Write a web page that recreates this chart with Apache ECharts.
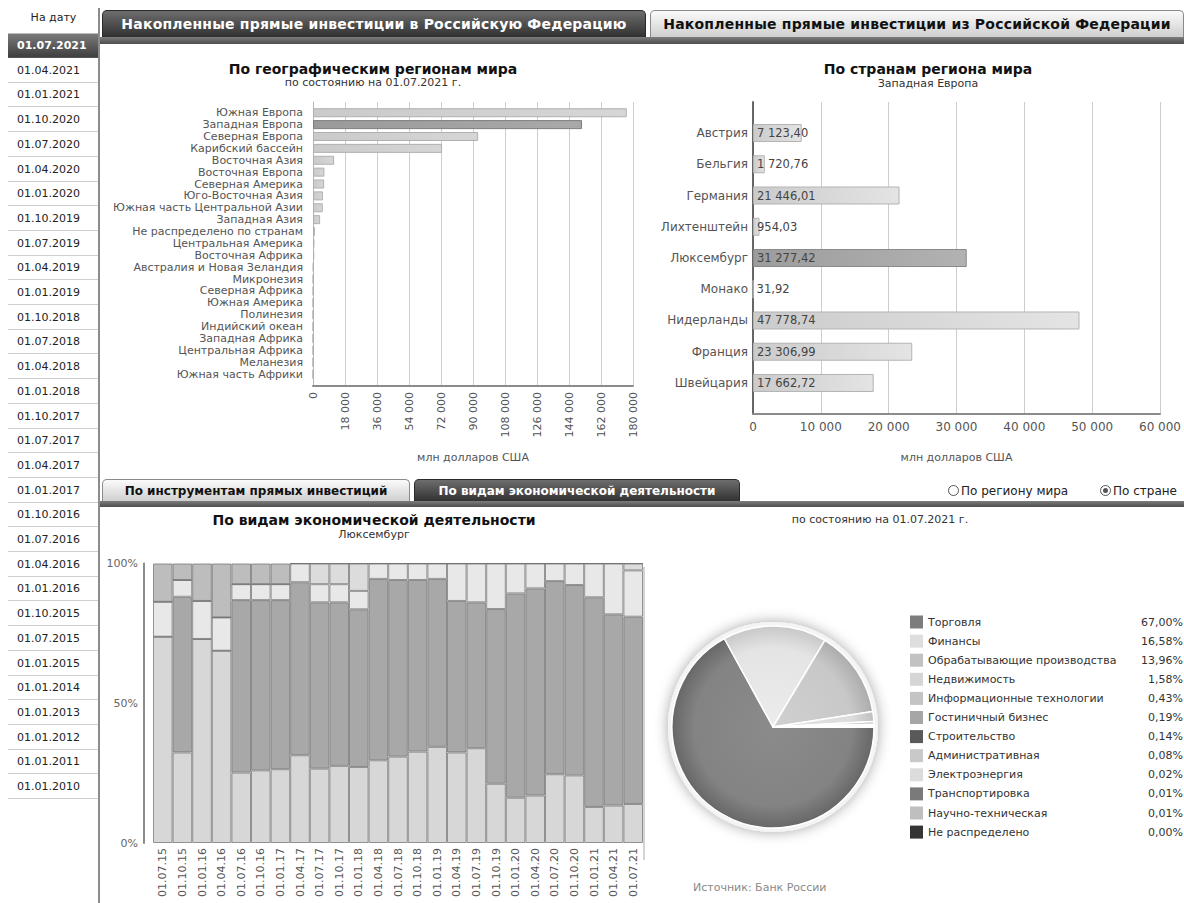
<!DOCTYPE html>
<html lang="ru">
<head>
<meta charset="utf-8">
<title>Прямые инвестиции</title>
<script src="https://cdn.jsdelivr.net/npm/echarts@6/dist/echarts.min.js"></script>
<style>
  html, body { margin: 0; padding: 0; }
  body { width: 1184px; height: 903px; position: relative; overflow: hidden; background: #fff;
         font-family: "DejaVu Sans", Verdana, sans-serif; color: #222; }
  #chart { position: absolute; left: 0; top: 0; width: 1184px; height: 903px; }
  .abs { position: absolute; white-space: nowrap; }
  .ctr { text-align: center; width: 600px; line-height: 16px; }
  .title { font-weight: bold; font-size: 14px; color: #111; }
  .sub { font-size: 11px; color: #333; }
  .date { position: absolute; left: 8px; width: 91px; height: 24px; border-bottom: 1px solid #cfcfcf;
          font-size: 11px; line-height: 24px; padding-left: 9px; box-sizing: border-box; color: #222; }
  .date.sel { background: linear-gradient(#7a7a7a, #3f3f3f); color: #fff; font-weight: bold; border-bottom-color: #555; }
  .tab { position: absolute; box-sizing: border-box; text-align: center; font-weight: bold;
         border-radius: 5px 5px 0 0; }
  .tab.dark { background: linear-gradient(#6d6d6d, #2f2f2f); color: #fff; border: 1px solid #2a2a2a; border-bottom: none; }
  .tab.light { background: linear-gradient(#fbfbfb, #cdcdcd); color: #111; border: 1px solid #8a8a8a; border-bottom: none; }
  .tab.big { font-size: 14px; letter-spacing: 0.2px; line-height: 27px; }
  .strip { position: absolute; left: 100px; width: 1084px; background: linear-gradient(#7d7d7d, #4d4d4d); }
  .radio { position: absolute; width: 11px; height: 11px; border: 1px solid #555; border-radius: 50%; background: #fff; box-sizing: border-box; }
  .radio.on::after { content: ""; position: absolute; left: 2px; top: 2px; width: 5px; height: 5px; border-radius: 50%; background: #555; }
</style>
</head>
<body>
<div id="chart"></div>
<div id="chrome"></div>
<script>
// ---------- data ----------
const reportDates = ['01.07.2021','01.04.2021','01.01.2021','01.10.2020','01.07.2020','01.04.2020','01.01.2020',
  '01.10.2019','01.07.2019','01.04.2019','01.01.2019','01.10.2018','01.07.2018','01.04.2018','01.01.2018',
  '01.10.2017','01.07.2017','01.04.2017','01.01.2017','01.10.2016','01.07.2016','01.04.2016','01.01.2016',
  '01.10.2015','01.07.2015','01.01.2015','01.01.2014','01.01.2013','01.01.2012','01.01.2011','01.01.2010'];

const regions = ['Южная Европа','Западная Европа','Северная Европа','Карибский бассейн','Восточная Азия',
  'Восточная Европа','Северная Америка','Юго-Восточная Азия','Южная часть Центральной Азии','Западная Азия',
  'Не распределено по странам','Центральная Америка','Восточная Африка','Австралия и Новая Зеландия','Микронезия',
  'Северная Африка','Южная Америка','Полинезия','Индийский океан','Западная Африка','Центральная Африка',
  'Меланезия','Южная часть Африки'];
const regionValues = [176500, 151301.99, 92900, 72600, 11900, 6400, 6300, 5600, 5500, 4000,
  1100, 800, 700, 250, 120, 90, 70, 40, 30, 20, 10, 5, 2];
const selectedRegion = 'Западная Европа';

const countries = ['Австрия','Бельгия','Германия','Лихтенштейн','Люксембург','Монако','Нидерланды','Франция','Швейцария'];
const countryValues = [7123.40, 1720.76, 21446.01, 954.03, 31277.42, 31.92, 47778.74, 23306.99, 17662.72];
const selectedCountry = 'Люксембург';

const quarters = ['01.07.15','01.10.15','01.01.16','01.04.16','01.07.16','01.10.16','01.01.17','01.04.17',
  '01.07.17','01.10.17','01.01.18','01.04.18','01.07.18','01.10.18','01.01.19','01.04.19','01.07.19',
  '01.10.19','01.01.20','01.04.20','01.07.20','01.10.20','01.01.21','01.04.21','01.07.21'];
const shareManufacturing = [73.8, 32.4, 73.0, 68.8, 25.2, 26.0, 26.4, 31.4, 26.6, 27.6, 27.2, 29.6, 30.9,
  32.7, 34.4, 32.4, 33.9, 21.2, 16.2, 17.0, 24.6, 24.2, 12.9, 13.4, 13.96];
const shareTrade = [0, 55.7, 0, 0, 61.7, 60.9, 60.5, 61.9, 59.5, 58.5, 56.4, 64.9, 63.2,
  61.4, 60.1, 54.2, 52.2, 62.5, 73.1, 74.1, 69.1, 68.1, 75.0, 68.4, 67.00];
const shareFinance = [12.5, 6.0, 13.6, 11.9, 5.7, 5.7, 5.7, 6.7, 6.5, 6.5, 6.6, 5.5, 5.9,
  5.9, 5.5, 13.4, 13.9, 16.3, 10.7, 8.9, 6.3, 7.7, 12.1, 18.2, 16.58];
const shareRealty = [0, 0, 0, 0, 0, 0, 0, 0, 7.4, 7.4, 9.8, 0, 0,
  0, 0, 0, 0, 0, 0, 0, 0, 0, 0, 0, 2.46];
const shareOther = [13.7, 5.9, 13.4, 19.3, 7.4, 7.4, 7.4, 0, 0, 0, 0, 0, 0,
  0, 0, 0, 0, 0, 0, 0, 0, 0, 0, 0, 0];

const sectors = ['Торговля','Финансы','Обрабатывающие производства','Недвижимость','Информационные технологии',
  'Гостиничный бизнес','Строительство','Административная','Электроэнергия','Транспортировка',
  'Научно-техническая','Не распределено'];
const sectorShares = [67.00, 16.58, 13.96, 1.58, 0.43, 0.19, 0.14, 0.08, 0.02, 0.01, 0.01, 0.00];

// ---------- page chrome (tabs, date list, headings) ----------
const chrome = document.getElementById('chrome');
function add(html) { chrome.insertAdjacentHTML('beforeend', html); }
function centered(text, cx, cy, cls) {
  add(`<div class="abs ctr ${cls}" style="left:${cx - 300}px;top:${cy - 8}px">${text}</div>`);
}

add(`<div class="abs" style="left:8px;top:11px;width:91px;text-align:center;font-size:11px;line-height:14px">На дату</div>`);
reportDates.forEach((d, i) => {
  add(`<div class="date${i === 0 ? ' sel' : ''}" style="top:${(34 + i * 24.7).toFixed(1)}px">${d}</div>`);
});
add(`<div class="abs" style="left:8px;top:33px;width:91px;height:1px;background:#bbb"></div>`);
add(`<div class="abs" style="left:98px;top:8px;width:2px;height:895px;background:#8c8c8c"></div>`);

add(`<div class="tab dark big" style="left:102px;top:10px;width:544px;height:28px">Накопленные прямые инвестиции в Российскую Федерацию</div>`);
add(`<div class="tab light big" style="left:650px;top:10px;width:534px;height:28px">Накопленные прямые инвестиции из Российской Федерации</div>`);
add(`<div class="strip" style="top:37px;height:7px"></div>`);

add(`<div class="tab light" style="left:102px;top:479px;width:308px;height:23px;font-size:12px;line-height:22px">По инструментам прямых инвестиций</div>`);
add(`<div class="tab dark" style="left:414px;top:479px;width:326px;height:23px;font-size:12px;line-height:22px">По видам экономической деятельности</div>`);
add(`<div class="strip" style="top:501px;height:6px"></div>`);

add(`<div class="radio" style="left:948px;top:485px"></div>`);
add(`<div class="abs" style="left:961px;top:483px;font-size:12px;line-height:16px;color:#222">По региону мира</div>`);
add(`<div class="radio on" style="left:1100px;top:485px"></div>`);
add(`<div class="abs" style="left:1113px;top:483px;font-size:12px;line-height:16px;color:#222">По стране</div>`);

centered('По географическим регионам мира', 373, 69, 'title');
centered('по состоянию на 01.07.2021 г.', 373, 83, 'sub');
centered('По странам региона мира', 928, 69, 'title');
centered('Западная Европа', 928, 84, 'sub');
centered('По видам экономической деятельности', 374, 520, 'title');
centered('Люксембург', 374, 535, 'sub');
centered('по состоянию на 01.07.2021 г.', 880, 520, 'sub');
add(`<div class="abs" style="left:693px;top:880px;font-size:11px;line-height:16px;color:#8a8a8a">Источник: Банк России</div>`);
add(`<div class="abs" style="left:643px;top:567px;width:2px;height:293px;background:#d4d4d4"></div>`);

// ---------- charts ----------
const FONT = '"DejaVu Sans", Verdana, sans-serif';
function groupThousands(v) { return String(Math.round(v)).replace(/\B(?=(\d{3})+(?!\d))/g, ' '); }
function money(v) { const p = v.toFixed(2).split('.'); return groupThousands(+p[0]) + ',' + p[1]; }
function pct(v) { return v.toFixed(2).replace('.', ',') + '%'; }

const hGrad = (a, b) => ({ type: 'linear', x: 0, y: 0, x2: 1, y2: 0, colorStops: [{ offset: 0, color: a }, { offset: 1, color: b }] });
const PIE_C = [773, 727], PIE_R = 101;
const radial = (light, base, dark) => ({ type: 'radial', x: PIE_C[0], y: PIE_C[1], r: PIE_R, global: true,
  colorStops: [{ offset: 0, color: light }, { offset: 0.78, color: base }, { offset: 1, color: dark }] });

const sectorColors = ['#7d7d7d','#dedede','#c2c2c2','#d6d6d6','#c4c4c4','#a6a6a6','#595959','#c9c9c9','#dcdcdc','#7a7a7a','#bfbfbf','#353535'];
const sectorFills = sectorColors.map(c => {
  const n = parseInt(c.slice(1, 3), 16);
  const h = v => Math.max(0, Math.min(255, v)).toString(16).padStart(2, '0');
  const g = v => '#' + h(v) + h(v) + h(v);
  return radial(g(n + 14), g(n + 6), g(n - 22));
});

const axisFont = { fontFamily: FONT, color: '#555' };

const option = {
  animation: false,
  textStyle: { fontFamily: FONT },
  grid: [
    { left: 313, top: 102, width: 320, height: 284 },       // regions frame
    { left: 313, top: 106.8, width: 320, height: 273.2 },   // regions bars
    { left: 753, top: 102, width: 410, height: 312 },       // countries frame
    { left: 753, top: 117.4, width: 410, height: 281.2 },   // countries bars
    { left: 153, top: 563.5, width: 490, height: 279.5 }    // activity shares
  ],
  xAxis: [
    { gridIndex: 0, type: 'value', min: 0, max: 180000, interval: 18000,
      axisLine: { show: true, lineStyle: { color: '#8c8c8c', width: 2 } }, axisTick: { show: false },
      splitLine: { show: true, lineStyle: { color: '#cdcdcd' } },
      axisLabel: { ...axisFont, fontSize: 11, rotate: 90, margin: 6, formatter: groupThousands },
      name: 'млн долларов США', nameLocation: 'middle', nameGap: 71,
      nameTextStyle: { ...axisFont, fontSize: 11, verticalAlign: 'middle' } },
    { gridIndex: 1, type: 'value', min: 0, max: 180000, show: false },
    { gridIndex: 2, type: 'value', min: 0, max: 60000, interval: 10000,
      axisLine: { show: true, lineStyle: { color: '#8c8c8c', width: 2 } }, axisTick: { show: false },
      splitLine: { show: true, lineStyle: { color: '#cdcdcd' } },
      axisLabel: { ...axisFont, fontSize: 12, margin: 7, formatter: groupThousands },
      name: 'млн долларов США', nameLocation: 'middle', nameGap: 43,
      nameTextStyle: { ...axisFont, fontSize: 11, verticalAlign: 'middle' } },
    { gridIndex: 3, type: 'value', min: 0, max: 60000, show: false },
    { gridIndex: 4, type: 'category', data: quarters,
      axisLine: { show: false }, axisTick: { show: false },
      axisLabel: { ...axisFont, fontSize: 11, rotate: 90, interval: 0, margin: 5 } }
  ],
  yAxis: [
    { gridIndex: 0, type: 'value', axisLabel: { show: false }, axisTick: { show: false }, splitLine: { show: false },
      axisLine: { show: true, lineStyle: { color: '#b5b5b5', width: 1 } } },
    { gridIndex: 1, type: 'category', data: regions, inverse: true,
      axisLine: { show: false }, axisTick: { show: false },
      axisLabel: { ...axisFont, fontSize: 11, margin: 10, interval: 0 } },
    { gridIndex: 2, type: 'value', axisLabel: { show: false }, axisTick: { show: false }, splitLine: { show: false },
      axisLine: { show: true, lineStyle: { color: '#666', width: 2 } } },
    { gridIndex: 3, type: 'category', data: countries, inverse: true,
      axisLine: { show: false }, axisTick: { show: false },
      axisLabel: { ...axisFont, fontSize: 12, margin: 5, interval: 0 } },
    { gridIndex: 4, type: 'value', min: 0, max: 100, interval: 50, offset: 9,
      axisLine: { show: true, lineStyle: { color: '#8c8c8c', width: 2 } }, axisTick: { show: false },
      splitLine: { show: false },
      axisLabel: { ...axisFont, color: '#666', fontSize: 11, margin: 6, formatter: '{value}%' } }
  ],
  legend: {
    orient: 'vertical', left: 910, top: 615.5, padding: 0, itemWidth: 13, itemHeight: 13, itemGap: 6.1, itemTextGap: 3,
    icon: 'rect', selectedMode: false,
    data: sectors.map((n, i) => ({ name: n, itemStyle: { color: sectorColors[i], borderWidth: 0 } })),
    formatter: name => `{n|${name}}{v|${pct(sectorShares[sectors.indexOf(name)])}}`,
    textStyle: { fontFamily: FONT, color: '#333', fontSize: 11,
      rich: { n: { width: 203, fontSize: 11, lineHeight: 13, color: '#333', fontFamily: FONT },
              v: { width: 52, align: 'right', fontSize: 11, lineHeight: 13, color: '#333', fontFamily: FONT } } }
  },
  series: [
    { type: 'bar', xAxisIndex: 1, yAxisIndex: 1, barWidth: 9,
      data: regionValues.map((v, i) => ({ value: v, itemStyle: regions[i] === selectedRegion
        ? { color: hGrad('#9a9a9a', '#a9a9a9'), borderColor: '#7d7d7d', borderWidth: 1 }
        : { color: hGrad('#cacaca', '#d6d6d6'), borderColor: '#b0b0b0', borderWidth: 1 } })) },
    { type: 'bar', xAxisIndex: 3, yAxisIndex: 3, barWidth: 18,
      data: countryValues.map((v, i) => ({ value: v, itemStyle: countries[i] === selectedCountry
        ? { color: hGrad('#9c9c9c', '#b2b2b2'), borderColor: '#8a8a8a', borderWidth: 1 }
        : { color: hGrad('#cbcbcb', '#e4e4e4'), borderColor: '#b3b3b3', borderWidth: 1 } })),
      label: { show: true, position: 'insideLeft', distance: 4, color: '#444', fontSize: 11.5, fontFamily: FONT,
               formatter: p => money(p.value) } },
    ...[
      ['Обрабатывающие производства', shareManufacturing, '#d7d7d7'],
      ['Торговля', shareTrade, '#a8a8a8'],
      ['Финансы', shareFinance, '#e8e8e8'],
      ['Недвижимость', shareRealty, '#dcdcdc'],
      ['Прочие виды деятельности', shareOther, '#bdbdbd']
    ].map(([name, data, color]) => ({
      name, type: 'bar', xAxisIndex: 4, yAxisIndex: 4, stack: 'share', barCategoryGap: '0%', data,
      itemStyle: { color, borderColor: 'rgba(115,115,115,0.75)', borderWidth: 1 }
    })),
    { type: 'pie', silent: true, center: PIE_C, radius: PIE_R + 4, z: 1, label: { show: false },
      data: [{ value: 1, itemStyle: { color: '#f4f4f4', shadowBlur: 14, shadowColor: 'rgba(0,0,0,0.35)' } }] },
    { name: 'Отрасли', type: 'pie', center: PIE_C, radius: PIE_R, startAngle: 0, clockwise: true, z: 3,
      label: { show: false }, labelLine: { show: false },
      itemStyle: { borderColor: '#ffffff', borderWidth: 1.5 },
      data: sectors.map((n, i) => ({ name: n, value: sectorShares[i], itemStyle: { color: sectorFills[i] } })) }
  ]
};

const chart = echarts.init(document.getElementById('chart'), null, { renderer: 'svg', width: 1184, height: 903 });
chart.setOption(option);
</script>
</body>
</html>
